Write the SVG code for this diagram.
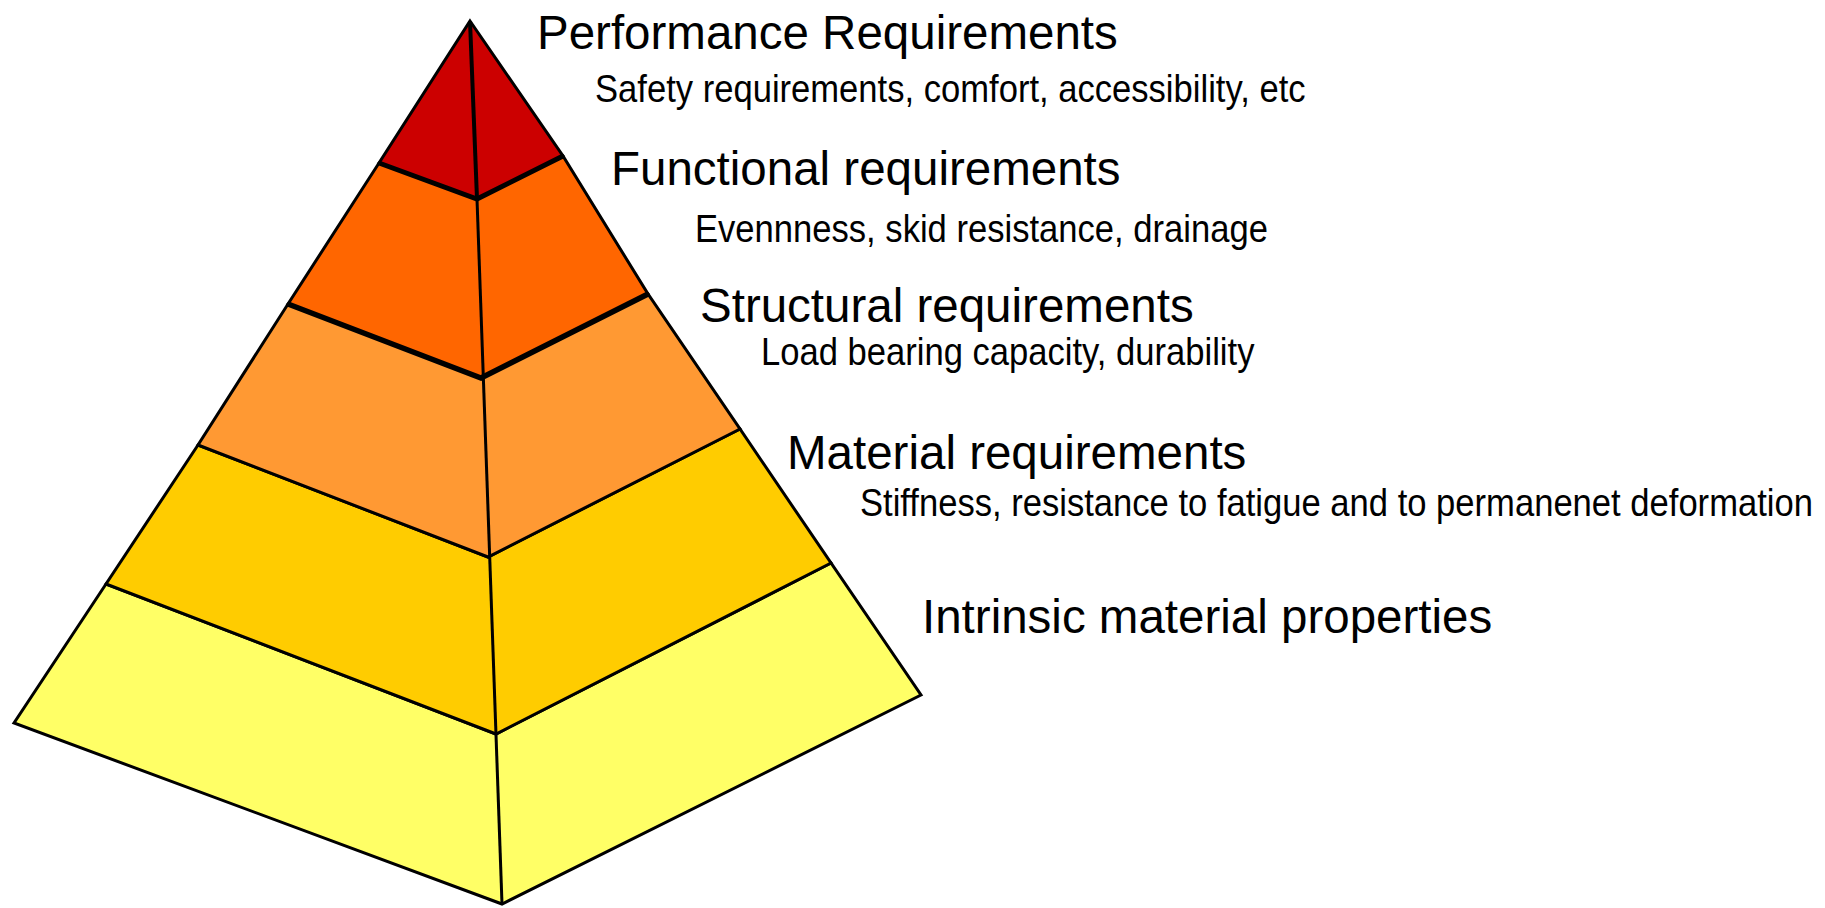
<svg xmlns="http://www.w3.org/2000/svg" width="1825" height="908" viewBox="0 0 1825 908">
<style>
.face{stroke:#000;stroke-width:3;stroke-linejoin:miter}
.title{font-family:"Liberation Sans",Arial,sans-serif;font-size:47.5px;fill:#000}
.sub{font-family:"Liberation Sans",Arial,sans-serif;font-size:34.6px;fill:#000}
.edge{fill:none;stroke:#000;stroke-linejoin:miter}
</style>
<rect width="1825" height="908" fill="#fff"/>
<g id="tier-intrinsic">
<polygon class="face" fill="#FFFF66" points="106,584 496,734 831,563 921,695 502,904 14,723"/>
<text class="title" x="922" y="633">Intrinsic material properties</text>
</g>
<g id="tier-material">
<polygon class="face" fill="#FFCC00" points="198,445 488,557 740,429 831,563 496,734 106,584"/>
<text class="title" x="787" y="469">Material requirements</text>
<text class="sub" transform="translate(860,516) scale(1,1.12)" x="0" y="0">Stiffness, resistance to fatigue and to permanenet deformation</text>
</g>
<g id="tier-structural">
<polygon class="face" fill="#FF9933" points="288,304 481,378 648,294 740,429 488,557 198,445"/>
<text class="title" x="700" y="322">Structural requirements</text>
<text class="sub" transform="translate(761,365) scale(1,1.12)" x="0" y="0">Load bearing capacity, durability</text>
</g>
<g id="tier-functional">
<polygon class="face" fill="#FF6600" points="379,163 477,199 563,156 648,294 481,378 288,304"/>
<text class="title" x="611" y="185">Functional requirements</text>
<text class="sub" transform="translate(695,242) scale(1,1.12)" x="0" y="0">Evennness, skid resistance, drainage</text>
</g>
<g id="tier-performance">
<polygon class="face" fill="#CC0000" points="470,21 563,156 477,199 379,163"/>
<text class="title" x="537" y="49">Performance Requirements</text>
<text class="sub" transform="translate(595,102) scale(1,1.12)" x="0" y="0">Safety requirements, comfort, accessibility, etc</text>
</g>
<g id="connectors">
<polyline class="edge" stroke-width="5" points="379,163 477,199 563,156"/>
<polyline class="edge" stroke-width="5.5" points="288,304 481,378 648,294"/>
<line class="edge" stroke-width="4" x1="470" y1="21" x2="477" y2="199"/>
<line class="edge" stroke-width="3" x1="477" y1="199" x2="502" y2="904"/>
</g>
</svg>
